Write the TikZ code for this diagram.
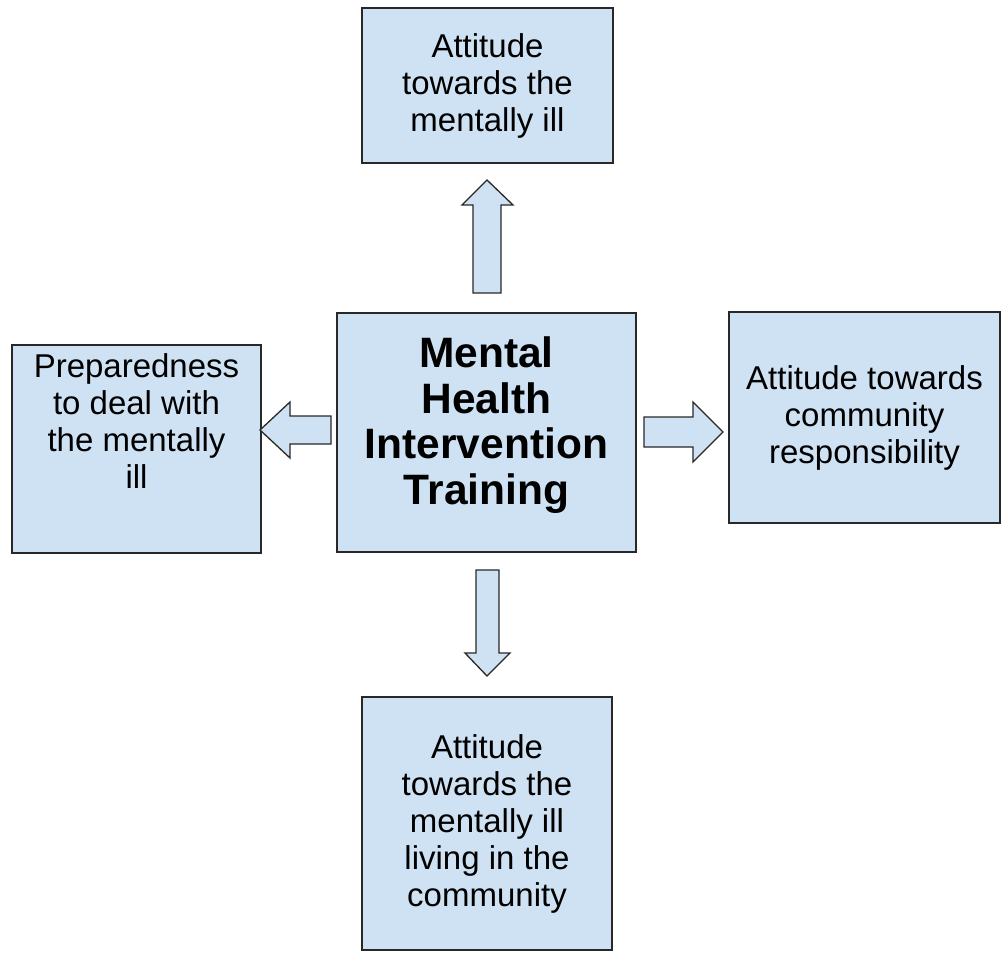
\documentclass[tikz,border=0pt]{standalone}
\usepackage{fontspec}
\setmainfont{Liberation Sans}
\definecolor{boxblue}{RGB}{207,226,243}
\definecolor{edge}{RGB}{40,40,40}
\tikzset{
  x=1pt, y=-1pt,
  box/.style={draw=edge, line width=1.6pt, fill=boxblue, inner sep=0pt, outer sep=0pt, align=center,
    font=\fontsize{33}{37}\selectfont},
  blockarrow/.style={draw=edge, line width=1.3pt, fill=boxblue, line join=miter},
  boldtext/.style={font=\fontsize{42.5}{45.5}\selectfont\bfseries}
}
\begin{document}
\begin{tikzpicture}
\useasboundingbox[fill=white] (0,0) rectangle (1002,953);
% boxes
\node[box, minimum width=251pt, minimum height=155pt] (top) at (487.5,85.5) {Attitude\\towards the\\mentally ill};
\node[box, minimum width=299pt, minimum height=239pt] (center) at (486.5,432.5) {};
\node[boldtext, align=center] (centerlabel) at (486.5,425) {Mental\\Health\\Intervention\\Training};
\node[box, minimum width=249pt, minimum height=208pt] (left) at (136.5,449) {};
\node[align=center, font=\fontsize{33}{37}\selectfont] (leftlabel) at (136.5,421) {Preparedness\\to deal with\\the mentally\\ill};
\node[box, minimum width=271pt, minimum height=211pt] (right) at (864.5,417.5) {Attitude towards\\community\\responsibility};
\node[box, minimum width=250pt, minimum height=253pt] (bottom) at (487,823.5) {Attitude\\towards the\\mentally ill\\living in the\\community};
% block arrows
\draw[blockarrow] (473,293) -- (473,205) -- (462,205) -- (487,180) -- (513,205) -- (501,205) -- (501,293) -- cycle;
\draw[blockarrow] (331,416) -- (290,416) -- (290,402) -- (260,430) -- (290,458) -- (290,444) -- (331,444) -- cycle;
\draw[blockarrow] (644,417) -- (693,417) -- (693,402) -- (723,432) -- (693,462) -- (693,447) -- (644,447) -- cycle;
\draw[blockarrow] (476,570) -- (476,653) -- (465,653) -- (487,676) -- (510,653) -- (499,653) -- (499,570) -- cycle;
\end{tikzpicture}
\end{document}
